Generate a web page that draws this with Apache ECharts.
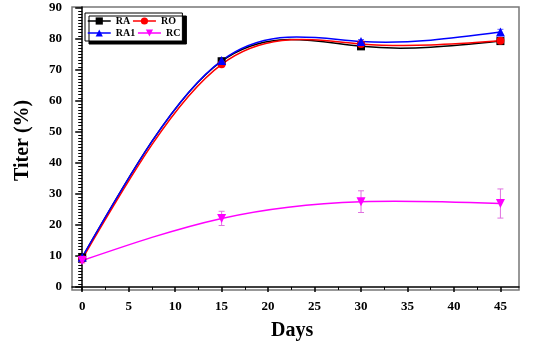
<!DOCTYPE html>
<html><head><meta charset="utf-8">
<script src="https://cdn.jsdelivr.net/npm/echarts@6/dist/echarts.min.js"></script>
<style>html,body{margin:0;padding:0;background:#fff}#c{width:533px;height:348px}</style>
</head><body><div id="c"></div>
<script>
var days = [0, 15, 30, 45];
var RA  = [9.5, 72.8, 77.6, 79.3];
var RO  = [9.0, 71.8, 78.4, 79.4];
var RA1 = [9.6, 73.0, 79.2, 82.2];
var RC  = [8.5, 22.1, 27.5, 26.9];
var RCerr = [0.8, 2.3, 3.5, 4.7];
var RA1err = [0.5, 0.8, 0.6, 0.9];
var xTicks = [0, 5, 10, 15, 20, 25, 30, 35, 40, 45];
var yTicks = [0, 10, 20, 30, 40, 50, 60, 70, 80, 90];
var xMinor = [2.5, 7.5, 12.5, 17.5, 22.5, 27.5, 32.5, 37.5, 42.5];
var yMinor = [];
for (var i = 0; i <= 90; i++) { if (i % 10) yMinor.push(i); }

var serif = 'Liberation Serif';
function pairs(v){ return days.map(function(d,i){return [d, v[i]];}); }

// natural cubic spline derivatives at knots (curve drawn as bezier segments)
function splineSlopes(xs, ys){
  var n = xs.length, h = [], M = new Array(n).fill(0);
  for (var i = 0; i < n-1; i++) h.push(xs[i+1]-xs[i]);
  var a = [], b = [], c = [], d = [];
  for (var i = 1; i < n-1; i++) {
    a.push(h[i-1]); b.push(2*(h[i-1]+h[i])); c.push(h[i]);
    d.push(6*((ys[i+1]-ys[i])/h[i] - (ys[i]-ys[i-1])/h[i-1]));
  }
  var m = b.length;
  for (var i = 1; i < m; i++) { var w = a[i]/b[i-1]; b[i] -= w*c[i-1]; d[i] -= w*d[i-1]; }
  var sol = new Array(m);
  for (var i = m-1; i >= 0; i--) sol[i] = (d[i] - (i < m-1 ? c[i]*sol[i+1] : 0))/b[i];
  for (var i = 0; i < m; i++) M[i+1] = sol[i];
  var D = [];
  for (var i = 0; i < n; i++) {
    if (i < n-1) D.push((ys[i+1]-ys[i])/h[i] - h[i]*(2*M[i]+M[i+1])/6);
    else D.push((ys[i]-ys[i-1])/h[i-1] + h[i-1]*(M[i-1]+2*M[i])/6);
  }
  return D;
}
function curveSeries(vals, color){
  return {
    type: 'custom', xAxisIndex: 0, yAxisIndex: 0, z: 2, silent: true,
    data: [[days[0], vals[0]]],
    renderItem: function(params, api){
      var D = splineSlopes(days, vals);
      var p0 = api.coord([days[0], vals[0]]);
      var path = 'M' + p0[0] + ',' + p0[1];
      for (var i = 0; i < days.length-1; i++) {
        var h = (days[i+1]-days[i])/3;
        var c1 = api.coord([days[i]+h, vals[i]+h*D[i]]);
        var c2 = api.coord([days[i+1]-h, vals[i+1]-h*D[i+1]]);
        var p1 = api.coord([days[i+1], vals[i+1]]);
        path += ' C' + c1[0] + ',' + c1[1] + ' ' + c2[0] + ',' + c2[1] + ' ' + p1[0] + ',' + p1[1];
      }
      return {type: 'path', shape: {pathData: path}, style: {fill: null, stroke: color, lineWidth: 1.5}};
    }
  };
}
function errSeries(vals, errs, color){
  return {
    type: 'custom', xAxisIndex: 0, yAxisIndex: 0, z: 1, silent: true,
    data: days.map(function(d,i){return [d, vals[i]-errs[i], vals[i]+errs[i]];}),
    renderItem: function(params, api){
      var lo = api.coord([api.value(0), api.value(1)]);
      var hi = api.coord([api.value(0), api.value(2)]);
      var w = 3;
      var st = {stroke: color, lineWidth: 1};
      return {type:'group', children:[
        {type:'line', shape:{x1:lo[0],y1:lo[1],x2:hi[0],y2:hi[1]}, style:st},
        {type:'line', shape:{x1:lo[0]-w,y1:lo[1],x2:lo[0]+w,y2:lo[1]}, style:st},
        {type:'line', shape:{x1:hi[0]-w,y1:hi[1],x2:hi[0]+w,y2:hi[1]}, style:st}
      ]};
    }
  };
}
function markSeries(name, vals, color, symbol, size){
  return {
    name: name, type: 'line', xAxisIndex: 0, yAxisIndex: 0, z: 3,
    data: pairs(vals), symbol: symbol, symbolSize: size,
    lineStyle: {color: color, width: 1.5, opacity: 0}, itemStyle: {color: color}
  };
}
var chart = echarts.init(document.getElementById('c'));
chart.setOption({
  animation: false,
  backgroundColor: '#fff',
  grid: {left: 72, right: 14, top: 7, bottom: 58, show: true, borderColor: '#777', borderWidth: 1.5, backgroundColor: 'transparent'},
  legend: {
    left: 85, top: 13, orient: 'horizontal', width: 110, itemGap: 2,
    padding: [3, 2, 3, 2], itemWidth: 23, itemHeight: 9,
    backgroundColor: '#fff', borderColor: '#000', borderWidth: 1,
    shadowColor: '#000', shadowOffsetX: 4, shadowOffsetY: 3, shadowBlur: 0,
    lineStyle: {width: 1.5, opacity: 1},
    textStyle: {fontFamily: serif, fontWeight: 'bold', fontSize: 10, color: '#000', width: 14, lineHeight: 10},
    data: ['RA', 'RO', 'RA1', 'RC']
  },
  graphic: [
    {type: 'text', left: 271, top: 321, style: {text: 'Days', font: 'bold 20px "Liberation Serif"', fill: '#000'}},
    {type: 'text', rotation: Math.PI/2, x: 13, y: 181, style: {text: 'Titer (%)', font: 'bold 20px "Liberation Serif"', fill: '#000'}}
  ],
  xAxis: [{
    type: 'value', min: -1.1, max: 47,
    axisLine: {lineStyle: {color: '#000', width: 1.5}},
    axisTick: {customValues: xTicks, length: 5, lineStyle: {color: '#000', width: 1.5}},
    axisLabel: {customValues: xTicks, fontFamily: serif, fontWeight: 'bold', fontSize: 13, color: '#000', margin: 10},
    splitLine: {show: false}
  }, {
    type: 'value', min: -1.1, max: 47, position: 'bottom',
    axisLine: {show: false},
    axisTick: {customValues: xMinor, length: 3, lineStyle: {color: '#000', width: 1}},
    axisLabel: {show: false}, splitLine: {show: false}
  }],
  yAxis: [{
    type: 'value', min: -1, max: 90.3,
    axisLine: {show: true, lineStyle: {color: '#000', width: 1.5}},
    axisTick: {show: true, customValues: yTicks, length: 7, lineStyle: {color: '#000', width: 1.5}},
    axisLabel: {customValues: yTicks, fontFamily: serif, fontWeight: 'bold', fontSize: 13, color: '#000', margin: 10},
    splitLine: {show: false}
  }, {
    type: 'value', min: -1, max: 90.3, position: 'left',
    axisLine: {show: false},
    axisTick: {show: true, customValues: yMinor, length: 4, lineStyle: {color: '#000', width: 1}},
    axisLabel: {show: false}, splitLine: {show: false}
  }],
  series: [
    errSeries(RC, RCerr, '#e070e0'),
    errSeries(RA1, RA1err, '#6060ff'),
    curveSeries(RA, '#000000'),
    curveSeries(RO, '#ff0000'),
    curveSeries(RA1, '#0000ff'),
    curveSeries(RC, '#ff00ff'),
    markSeries('RA', RA, '#000000', 'rect', 8),
    markSeries('RO', RO, '#ff0000', 'circle', 8),
    markSeries('RA1', RA1, '#0000ff', 'triangle', 9),
    markSeries('RC', RC, '#ff00ff', 'path://M0,0 L10,0 L5,9 Z', 9)
  ]
});
</script></body></html>
